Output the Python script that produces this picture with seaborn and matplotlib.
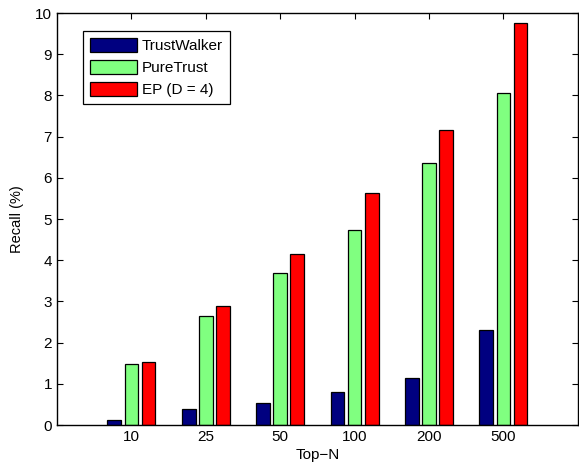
import matplotlib
matplotlib.use("Agg")
import matplotlib.pyplot as plt
import pandas as pd
import seaborn as sns

# Data
top_n = ["10", "25", "50", "100", "200", "500"]
trustwalker = [0.12, 0.38, 0.53, 0.79, 1.13, 2.31]
puretrust = [1.47, 2.65, 3.70, 4.74, 6.35, 8.05]
ep = [1.52, 2.90, 4.15, 5.63, 7.15, 9.75]
methods = ["TrustWalker", "PureTrust", "EP (D = 4)"]
colors = ["#000080", "#80FF80", "#FF0000"]

df = pd.DataFrame({
    "Top-N": top_n * 3,
    "Recall": trustwalker + puretrust + ep,
    "Method": [m for m in methods for _ in top_n],
})

sns.set_style("white")
plt.rcParams["font.family"] = ["Liberation Sans", "DejaVu Sans"]
plt.rcParams.update({"text.color": "black", "axes.labelcolor": "black",
                     "xtick.color": "black", "ytick.color": "black"})

fig = plt.figure(figsize=(5.79, 4.65), dpi=100)
ax = fig.add_axes([0.0984, 0.086, 0.8996, 0.886])

sns.barplot(data=df, x="Top-N", y="Recall", hue="Method", order=top_n,
            hue_order=methods, palette=colors, saturation=1, width=0.69,
            gap=0.2, edgecolor="black", linewidth=0.9, ax=ax)

ax.set_xlim(-1, 6)
ax.set_ylim(0, 10)
ax.set_yticks(range(0, 11))
ax.set_xlabel("Top\u2212N", fontsize=11, labelpad=3)
ax.set_ylabel("Recall (%)", fontsize=10.5, labelpad=8)
ax.tick_params(direction="in", length=4, width=0.8, labelsize=11,
               top=True, right=True, bottom=True, left=True)
for s in ax.spines.values():
    s.set_color("black")
    s.set_linewidth(1.0)

leg = ax.legend(loc="upper left", bbox_to_anchor=(0.035, 0.975), fontsize=11,
                handlelength=3.1, handleheight=1.05, labelspacing=0.45,
                handletextpad=0.3, borderpad=0.45, fancybox=False, framealpha=1)
leg.get_frame().set_edgecolor("black")
leg.get_frame().set_linewidth(0.9)

fig.savefig("out.png", dpi=100)
